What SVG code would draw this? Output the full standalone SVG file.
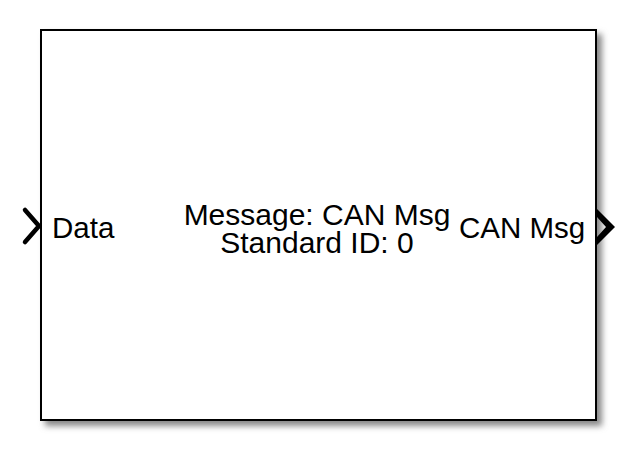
<svg xmlns="http://www.w3.org/2000/svg" width="634" height="453" viewBox="0 0 634 453">
<style>
.lbl{font-family:"Liberation Sans",Arial,sans-serif;font-size:29.5px;fill:#000}
.mid{font-size:30px}
</style>
<defs>
<filter id="sh" x="-10%" y="-10%" width="120%" height="120%">
<feGaussianBlur stdDeviation="3"/>
</filter>
</defs>
<rect width="634" height="453" fill="#fff"/>
<g id="block">
<rect x="45" y="34" width="557" height="392" fill="#888" filter="url(#sh)"/>
<rect x="41" y="30" width="555" height="390" fill="#fff" stroke="#000" stroke-width="2"/>
<text class="lbl mid" x="317" y="225" text-anchor="middle">Message: CAN Msg</text>
<text class="lbl mid" x="317" y="253" text-anchor="middle">Standard ID: 0</text>
</g>
<g id="in-port">
<polyline points="25,210 39,226 25,242" fill="none" stroke="#000" stroke-width="4.5" stroke-linecap="round" stroke-linejoin="round"/>
<text class="lbl" x="52" y="238">Data</text>
</g>
<g id="out-port">
<polygon points="597,209 615,227 597,245 597,237 606,227 597,217" fill="#000"/>
<text class="lbl" x="459" y="238">CAN Msg</text>
</g>
<g id="connectors"></g>
</svg>
